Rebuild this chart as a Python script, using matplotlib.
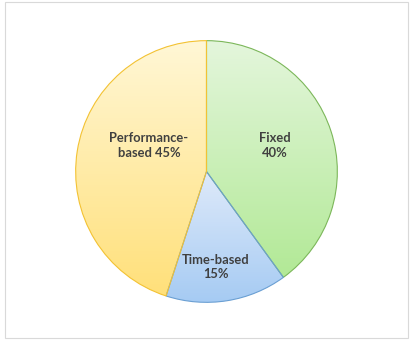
import matplotlib
matplotlib.use("Agg")
import matplotlib.pyplot as plt
import numpy as np
from matplotlib.colors import to_rgb
from matplotlib.patches import Rectangle

# Data
labels = ["Fixed", "Time-based", "Performance-based"]
shares = [40, 15, 45]
label_text = ["Fixed\n40%", "Time-based\n15%", "Performance-\nbased 45%"]
top_colors = ["#e4f6dc", "#dfeafa", "#fff7d6"]
bottom_colors = ["#b2e996", "#a6cbf3", "#ffe07a"]
edge_colors = ["#7cb75a", "#6a9fd3", "#f3c233"]
label_pos = [(0.52, 0.2), (0.07, -0.73), (-0.44, 0.2)]

W, H = 411, 341
fig = plt.figure(figsize=(W / 100, H / 100), dpi=100)
fig.patch.set_facecolor("white")

# light outer frame
fig.patches.append(Rectangle((5 / W, 3 / H), 403 / W, 336 / H, transform=fig.transFigure,
                             fill=False, edgecolor="#d9d9d9", linewidth=0.8))

ax = fig.add_axes([75 / W, 38 / H, 263 / W, 263 / H])
wedges, _ = ax.pie(shares, startangle=90, counterclock=False, radius=1,
                   wedgeprops=dict(linewidth=0.8))

for w, top, bot, ec in zip(wedges, top_colors, bottom_colors, edge_colors):
    w.set_facecolor("none")
    w.set_edgecolor(ec)
    w.set_zorder(3)
    ext = w.get_path().get_extents()
    t = np.linspace(0, 1, 256)[:, None]
    grad = (1 - t) * np.array(to_rgb(top)) + t * np.array(to_rgb(bot))
    img = ax.imshow(grad[:, None, :], extent=(-1, 1, ext.y0, ext.y1), origin="upper",
                    aspect="auto", zorder=2, interpolation="bilinear")
    img.set_clip_path(w)

for txt, (x, y) in zip(label_text, label_pos):
    ax.text(x, y, txt, ha="center", va="center", fontsize=9.3, fontweight="bold",
            color="#404040", family="Lato", linespacing=1.25, zorder=5)

ax.set_xlim(-1.005, 1.005)
ax.set_ylim(-1.005, 1.005)
ax.set_aspect("equal")
ax.axis("off")

fig.savefig("out.png", dpi=100)
